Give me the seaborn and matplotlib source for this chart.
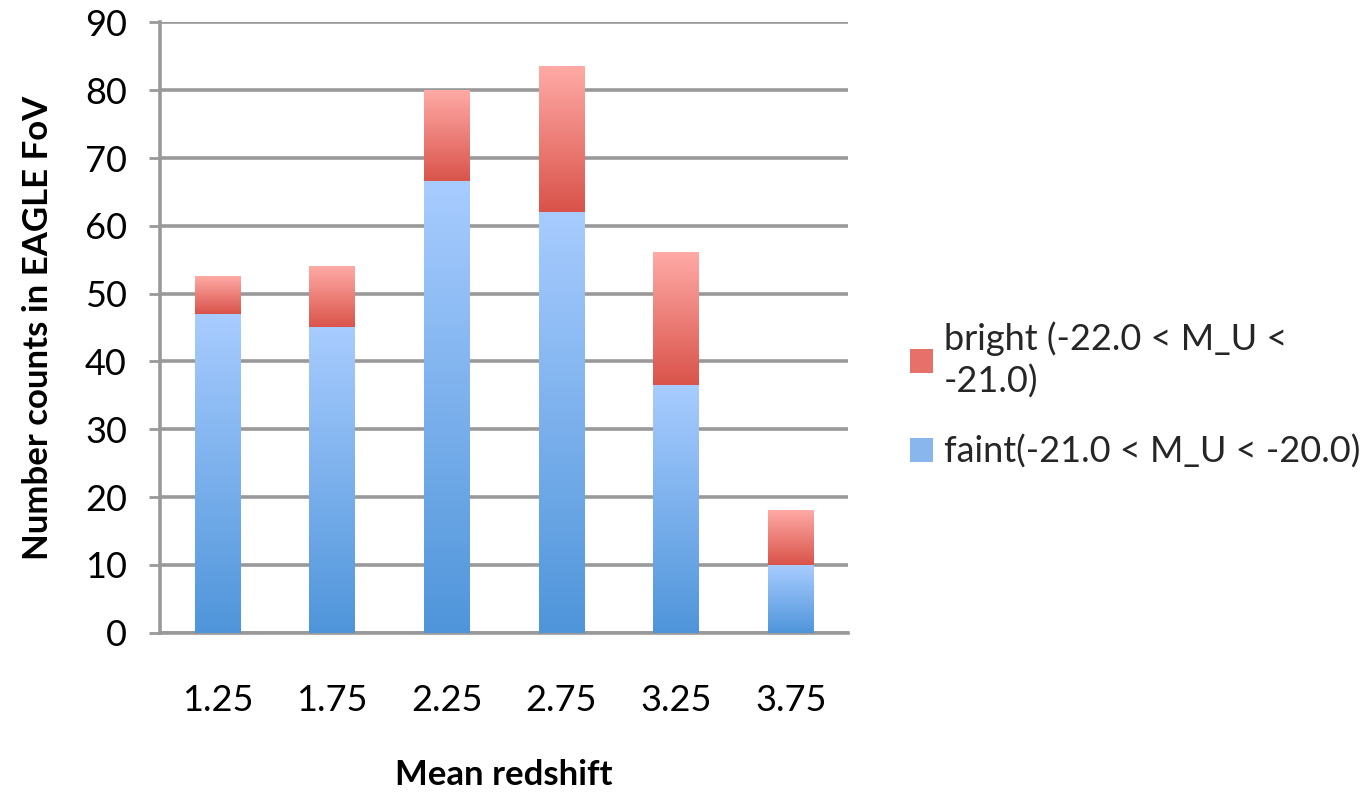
import numpy as np
import pandas as pd
import matplotlib
matplotlib.use("Agg")
import matplotlib.pyplot as plt
import seaborn as sns
from matplotlib.colors import LinearSegmentedColormap
from matplotlib.patches import Patch

redshift = ["1.25", "1.75", "2.25", "2.75", "3.25", "3.75"]
faint = [47, 45, 66.5, 62, 36.5, 10]
bright = [5.5, 9, 13.5, 21.5, 19.5, 8]
faint_label = "faint(-21.0 < M_U < -20.0)"
bright_label = "bright (-22.0 < M_U <\n-21.0)"

total = [f + b for f, b in zip(faint, bright)]
df = pd.DataFrame({"z": redshift, "faint": faint, "total": total})

sns.set_theme(style="white")
plt.rcParams["font.family"] = ["Lato", "DejaVu Sans"]

fig = plt.figure(figsize=(13.7, 7.98), dpi=100)
ax = fig.add_axes([0.117, 0.207, 0.502, 0.765])

sns.barplot(data=df, x="z", y="total", color="#E8706A", width=0.4, ax=ax, zorder=2)
n_tot = len(ax.patches)
sns.barplot(data=df, x="z", y="faint", color="#8AB6EE", width=0.4, ax=ax, zorder=3)

red_cmap = LinearSegmentedColormap.from_list("r", ["#D9534A", "#FFAAA6"])
blue_cmap = LinearSegmentedColormap.from_list("b", ["#4F95DA", "#A8CCFF"])
grad = np.linspace(0, 1, 256).reshape(-1, 1)

patches = list(ax.patches)
for i, p in enumerate(patches):
    x0, y0 = p.get_x(), p.get_y()
    w, h = p.get_width(), p.get_height()
    if i < n_tot:
        fb = faint[i]
        ax.imshow(grad, extent=(x0, x0 + w, fb, y0 + h), origin="lower",
                  cmap=red_cmap, aspect="auto", zorder=2.5)
    else:
        ax.imshow(grad, extent=(x0, x0 + w, y0, y0 + h), origin="lower",
                  cmap=blue_cmap, aspect="auto", zorder=3.5)
    p.set_alpha(0)

ax.set_xlim(-0.5, len(redshift) - 0.5)
ax.set_ylim(0, 90)
ax.set_yticks(range(0, 91, 10))

gcol = "#999999"
ax.yaxis.grid(True, color=gcol, linewidth=2.6, zorder=0)
ax.set_axisbelow(True)
for s in ["top", "right"]:
    ax.spines[s].set_visible(False)
for s in ["left", "bottom"]:
    ax.spines[s].set_color(gcol)
    ax.spines[s].set_linewidth(2.6)

ax.set_xticks(np.arange(-0.5, len(redshift), 1.0), minor=False)
ax.set_xticklabels([])
ax.set_xticks(range(len(redshift)), minor=True)
ax.set_xticklabels(redshift, minor=True)
ax.tick_params(axis="x", which="major", length=10, width=2, color=gcol, direction="out")
ax.tick_params(axis="x", which="minor", length=0, pad=37, labelsize=26, labelcolor="black")
ax.tick_params(axis="y", length=8, width=2, color=gcol, direction="out", labelsize=26,
               labelcolor="black", pad=16, left=True)

ax.set_xlabel("Mean redshift", fontsize=25, fontweight="bold", labelpad=30, color="black")
ax.set_ylabel("Number counts in EAGLE FoV", fontsize=25, fontweight="bold", labelpad=22, color="black")

handles = [Patch(facecolor="#E8706A", edgecolor="none"),
           Patch(facecolor="#8AB6EE", edgecolor="none")]
leg = fig.legend(handles, [bright_label, faint_label], loc="center left",
                 bbox_to_anchor=(0.664, 0.505), frameon=False, fontsize=26,
                 handlelength=0.65, handleheight=0.65, handletextpad=0.3, labelspacing=1.0,
                 borderaxespad=0, borderpad=0)
for t in leg.get_texts():
    t.set_linespacing(1.3)

fig.savefig("out.png", dpi=100)
